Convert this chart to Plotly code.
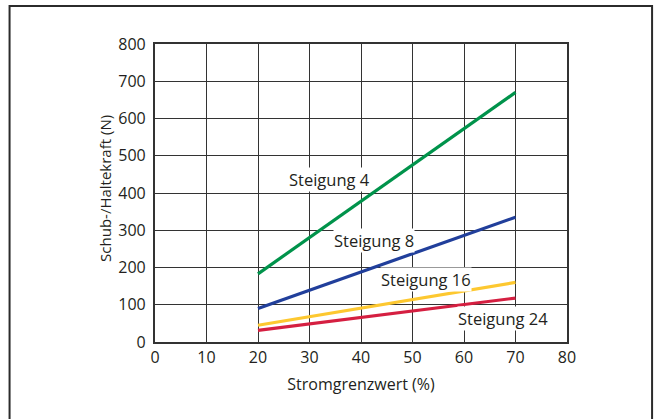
import plotly.graph_objects as go

# Stromgrenzwert (%) and resulting Schub-/Haltekraft (N) per spindle pitch
strom = [20, 70]
steigung_4 = [183, 670]
steigung_8 = [90, 335]
steigung_16 = [45, 160]
steigung_24 = [31, 118]

x_ticks = [0, 10, 20, 30, 40, 50, 60, 70, 80]
y_ticks = [0, 100, 200, 300, 400, 500, 600, 700, 800]

series = [
    ("Steigung 4", steigung_4, "#00934b"),
    ("Steigung 8", steigung_8, "#213f9b"),
    ("Steigung 16", steigung_16, "#fdc830"),
    ("Steigung 24", steigung_24, "#d51f41"),
]

# label placement (data coordinates)
labels = [
    ("Steigung 4", 33.8, 437),
    ("Steigung 8", 42.5, 272),
    ("Steigung 16", 52.6, 169),
    ("Steigung 24", 67.5, 63),
]

FONT = "Open Sans"
TXT = "#231f20"
GRID = "#333333"

fig = go.Figure()
for name, vals, col in series:
    fig.add_trace(go.Scatter(x=strom, y=vals, mode="lines", name=name,
                             line=dict(color=col, width=3.2), showlegend=False))

for text, lx, ly in labels:
    fig.add_annotation(x=lx, y=ly, text=text, showarrow=False,
                       font=dict(family=FONT, size=16.5, color=TXT),
                       bgcolor="white", borderpad=0,
                       xanchor="center", yanchor="middle")

# y-axis title as a rotated annotation
fig.add_annotation(xref="paper", yref="paper", x=-0.1214, y=0.517,
                   text="Schub-/Haltekraft (N)", textangle=-90, showarrow=False,
                   font=dict(family=FONT, size=15, color=TXT),
                   xanchor="center", yanchor="middle")

# outer frame around the whole figure
fig.add_shape(type="rect", xref="paper", yref="paper",
              x0=-0.353, x1=1.2065, y0=-0.35, y1=1.1275,
              line=dict(color="#2b2b2b", width=2), layer="below")

fig.update_layout(
    width=654, height=419,
    margin=dict(l=155, r=87, t=44, b=77),
    paper_bgcolor="white", plot_bgcolor="white",
    font=dict(family=FONT, size=16, color=TXT),
    xaxis=dict(range=[0, 80], tickvals=x_ticks, ticktext=[str(v) for v in x_ticks],
               tickfont=dict(family=FONT, size=16, color=TXT),
               showgrid=True, gridcolor=GRID, gridwidth=1.2,
               showline=True, linecolor=GRID, linewidth=2.2, mirror=True,
               zeroline=False, ticks="", ticklen=0,
               title=dict(text="Stromgrenzwert (%)", standoff=12,
                          font=dict(family=FONT, size=16, color=TXT))),
    yaxis=dict(range=[0, 800], tickvals=y_ticks, ticktext=[str(v) for v in y_ticks],
               tickfont=dict(family=FONT, size=16, color=TXT),
               showgrid=True, gridcolor=GRID, gridwidth=1.2,
               showline=True, linecolor=GRID, linewidth=2.2, mirror=True,
               zeroline=False, ticks="outside", ticklen=4, tickcolor="rgba(0,0,0,0)"),
)

fig.write_html("out.html")
